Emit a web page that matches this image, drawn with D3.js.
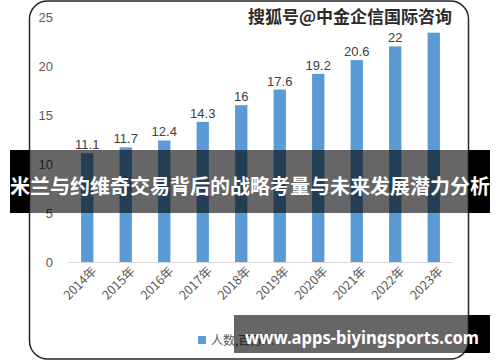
<!DOCTYPE html>
<html><head><meta charset="utf-8">
<script src="https://cdn.jsdelivr.net/npm/d3@7"></script>
<style>body{margin:0;background:#fff}svg{display:block}</style>
</head><body>
<script>
const years = ["2014年","2015年","2016年","2017年","2018年","2019年","2020年","2021年","2022年","2023年"];
const people = [11.1, 11.7, 12.4, 14.3, 16, 17.6, 19.2, 20.6, 22, 23.4];
const yTicks = [0, 5, 10, 15, 20, 25];
const legendLabel = "人数,百万人";
const watermarkTop = "搜狐号@中金企信国际咨询";
const bannerTitle = "米兰与约维奇交易背后的战略考量与未来发展潜力分析";
const bannerUrl = "www.apps-biyingsports.com";

const W = 500, H = 362;
const svg = d3.select("body").append("svg").attr("width", W).attr("height", H);
const defs = svg.append("defs");
const frame = {x: 29.5, y: 1, w: 439, h: 358, r: 18};
defs.append("clipPath").attr("id", "frameClip").append("rect")
  .attr("x", frame.x).attr("y", frame.y).attr("width", frame.w).attr("height", frame.h).attr("rx", frame.r);
const mask = defs.append("mask").attr("id", "outsideFrame");
mask.append("rect").attr("x", 0).attr("y", 0).attr("width", W).attr("height", H).attr("fill", "#fff");
mask.append("rect").attr("x", frame.x).attr("y", frame.y).attr("width", frame.w).attr("height", frame.h).attr("rx", frame.r).attr("fill", "#000");

// frame
svg.append("rect").attr("x", frame.x).attr("y", frame.y).attr("width", frame.w).attr("height", frame.h)
  .attr("rx", frame.r).attr("fill", "#fff").attr("stroke", "#262626").attr("stroke-width", 1.5);

const x = d3.scaleBand().domain(years).range([68, 453]).paddingInner(0.68).paddingOuter(0.34);
const y = d3.scaleLinear().domain([0, 25]).range([262, 17]);

// y axis labels
const yAxis = d3.axisLeft(y).tickValues(yTicks).tickSize(0).tickPadding(0);
const gy = svg.append("g").attr("transform", "translate(53,0)").call(yAxis);
gy.select(".domain").remove();
gy.selectAll("text").attr("fill", "#595959").style("font-family", "Liberation Sans, Arial, sans-serif").style("font-size", "13px");

// baseline + x labels
const xAxis = d3.axisBottom(x).tickSize(0).tickPadding(0);
const gx = svg.append("g").attr("transform", "translate(0,262)").call(xAxis);
gx.select(".domain").attr("stroke", "#d9d9d9").attr("stroke-width", 1).attr("d", "M68,0.5H453");
gx.selectAll("text")
  .attr("fill", "#595959")
  .style("font-family", "Noto Sans CJK SC, sans-serif").style("font-size", "12.5px")
  .attr("text-anchor", "end").attr("dy", null).attr("y", 0)
  .attr("transform", d => `translate(${x.bandwidth()/2 + 4},10) rotate(-45)`);

// bars
svg.append("g").selectAll("rect").data(people).join("rect")
  .attr("x", (d, i) => x(years[i])).attr("y", d => y(d))
  .attr("width", x.bandwidth()).attr("height", d => y(0) - y(d))
  .attr("fill", "#5b9bd5");

// value labels (the one under the top watermark is hidden in the reference)
const labelled = people.map((d, i) => ({d, i})).filter(o => y(o.d) - 4 > 34);
svg.append("g").selectAll("text").data(labelled).join("text")
  .attr("x", o => x(years[o.i]) + x.bandwidth()/2).attr("y", o => y(o.d) - 4)
  .attr("text-anchor", "middle").attr("fill", "#404040")
  .style("font-family", "Liberation Sans, Arial, sans-serif").style("font-size", "13px")
  .text(o => o.d);

// legend
const lg = svg.append("g");
lg.append("rect").attr("x", 198).attr("y", 336).attr("width", 8).attr("height", 8).attr("fill", "#5b9bd5");
lg.append("text").attr("x", 211).attr("y", 344.5).attr("fill", "#595959")
  .style("font-family", "Noto Sans CJK SC, sans-serif").style("font-size", "12px").text(legendLabel);

// watermark top
svg.append("text").attr("x", 350).attr("y", 23).attr("text-anchor", "middle")
  .style("font-family", "Noto Sans CJK SC, sans-serif").style("font-size", "17px").style("font-weight", "bold")
  .attr("fill", "#2b2b2b").attr("stroke", "#fff").attr("stroke-width", 2.5).attr("paint-order", "stroke")
  .text(watermarkTop);

// banners
function banner(x0, y0, w, h) {
  svg.append("rect").attr("x", x0).attr("y", y0).attr("width", w).attr("height", h)
    .attr("fill", "#000").attr("mask", "url(#outsideFrame)");
  svg.append("rect").attr("x", x0).attr("y", y0).attr("width", w).attr("height", h)
    .attr("fill", "#000").attr("fill-opacity", 0.6).attr("clip-path", "url(#frameClip)");
}
banner(10, 150, 480, 63);
svg.append("text").attr("x", 250).attr("y", 193.5).attr("text-anchor", "middle")
  .style("font-family", "Noto Sans CJK SC, sans-serif").style("font-size", "20px").style("font-weight", "bold")
  .attr("fill", "#fff").text(bannerTitle);

banner(234, 315, 256, 38);
svg.append("text").attr("x", 245).attr("y", 344).attr("text-anchor", "start")
  .style("font-family", "Noto Sans, sans-serif").style("font-size", "17px").style("font-weight", "bold")
  .attr("fill", "#fff").attr("textLength", 234).attr("lengthAdjust", "spacingAndGlyphs").text(bannerUrl);
</script>
</body></html>
